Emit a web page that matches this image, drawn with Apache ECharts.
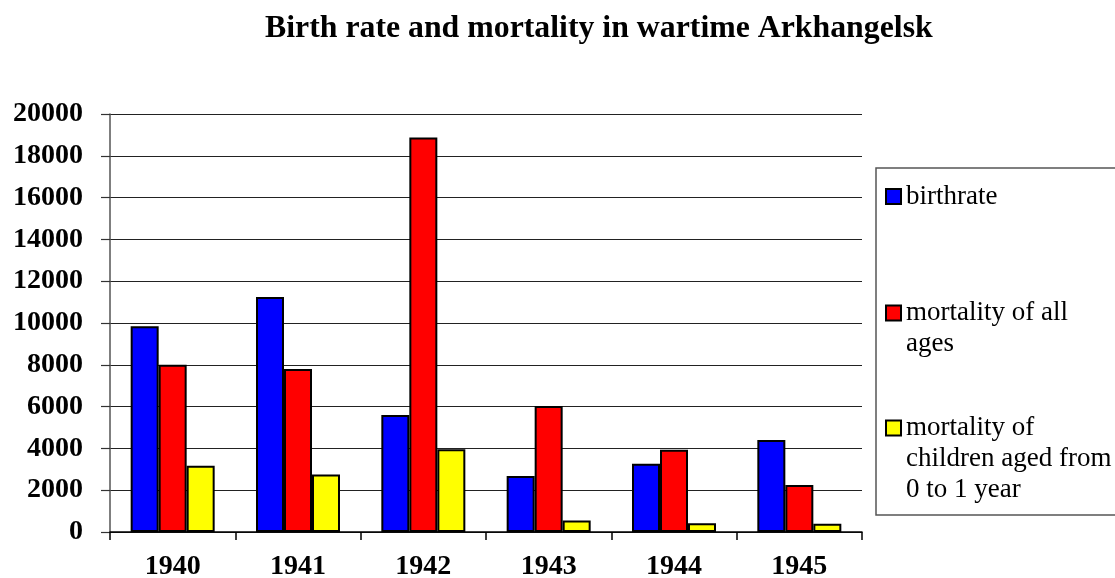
<!DOCTYPE html>
<html>
<head>
<meta charset="utf-8">
<script src="https://cdn.jsdelivr.net/npm/echarts@6/dist/echarts.min.js"></script>
<style>
  html, body { margin: 0; padding: 0; background: #fff; }
  #chart { width: 1115px; height: 578px; }
</style>
</head>
<body>
<div id="chart"></div>
<script>
const years = ['1940', '1941', '1942', '1943', '1944', '1945'];
const birthrate = [9850, 11250, 5600, 2680, 3260, 4400];
const mortalityAll = [8000, 7800, 18870, 6030, 3930, 2250];
const mortalityChildren = [3170, 2750, 3960, 550, 420, 390];
const yTicks = [0, 2000, 4000, 6000, 8000, 10000, 12000, 14000, 16000, 18000, 20000];

const seriesNames = [
  'birthrate',
  'mortality of all ages',
  'mortality of children aged from 0 to 1 year'
];
// wrapped legend text, as in the original
const legendLines = {
  'birthrate': ['birthrate'],
  'mortality of all ages': ['mortality of all', 'ages'],
  'mortality of children aged from 0 to 1 year': ['mortality of', 'children aged from', '0 to 1 year']
};

const font = '"Liberation Serif", "Times New Roman", serif';
const lineH = 31;

const chart = echarts.init(document.getElementById('chart'));

// legend text is centred on its icon, so pad with leading blank lines
// to put the icon next to the first line
function legendFor(name, iconY) {
  const lines = legendLines[name];
  const n = lines.length;
  const total = 2 * n - 1;
  return {
    orient: 'vertical',
    left: 885,
    top: iconY - total * lineH / 2,
    padding: 0,
    itemWidth: 15,
    itemHeight: 15,
    icon: 'rect',
    selectedMode: false,
    data: [name],
    formatter: () => '\n'.repeat(n - 1) + lines.join('\n'),
    textStyle: {
      fontFamily: font,
      fontSize: 27,
      lineHeight: lineH,
      color: '#000'
    }
  };
}

const option = {
  backgroundColor: '#fff',
  animation: false,
  title: {
    text: 'Birth rate and mortality in wartime Arkhangelsk',
    left: 265,
    top: 13,
    padding: 0,
    textStyle: {
      fontFamily: font,
      fontSize: 31.8,
      fontWeight: 'bold',
      color: '#000'
    }
  },
  legend: [
    legendFor(seriesNames[0], 196.5),
    legendFor(seriesNames[1], 313),
    legendFor(seriesNames[2], 428)
  ],
  graphic: [{
    type: 'rect',
    shape: { x: 876, y: 168, width: 250, height: 347 },
    style: { fill: 'none', stroke: '#555', lineWidth: 1.5 },
    silent: true,
    z: 0
  }],
  grid: {
    left: 110,
    right: 253,
    top: 114,
    bottom: 46,
    outerBoundsMode: 'none'
  },
  xAxis: {
    type: 'category',
    data: years,
    axisLine: { lineStyle: { color: '#000', width: 1.5 } },
    axisTick: { show: true, length: 8, lineStyle: { color: '#000', width: 1.5 } },
    axisLabel: {
      margin: 21,
      fontFamily: font,
      fontSize: 28,
      fontWeight: 'bold',
      color: '#000'
    }
  },
  yAxis: {
    type: 'value',
    min: 0,
    max: 20000,
    interval: 2000,
    axisLine: { show: true, lineStyle: { color: '#555', width: 1.5 } },
    axisTick: { show: true, length: 9, lineStyle: { color: '#333', width: 1.2 } },
    splitLine: { lineStyle: { color: '#222', width: 1.2 } },
    axisLabel: {
      margin: 27,
      fontFamily: font,
      fontSize: 28,
      fontWeight: 'bold',
      color: '#000',
      formatter: (v) => yTicks.includes(v) ? String(v) : ''
    }
  },
  series: [
    { data: birthrate, color: '#0000ff' },
    { data: mortalityAll, color: '#ff0000' },
    { data: mortalityChildren, color: '#ffff00' }
  ].map((s, i) => ({
    name: seriesNames[i],
    type: 'bar',
    data: s.data,
    barWidth: 28,
    barGap: '0%',
    itemStyle: { color: s.color, borderColor: '#000', borderWidth: 2 }
  }))
};

chart.setOption(option);
</script>
</body>
</html>
